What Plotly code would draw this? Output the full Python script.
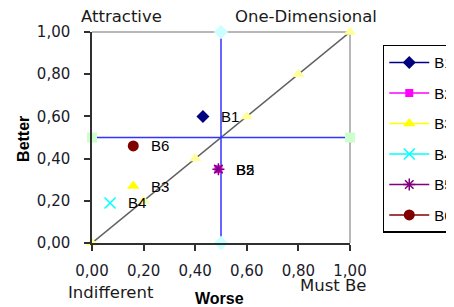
import plotly.graph_objects as go

# ---- data ----
series_names = ["B1", "B2", "B3", "B4", "B5", "B6"]
worse_values = [0.43, 0.49, 0.16, 0.07, 0.49, 0.16]
better_values = [0.60, 0.35, 0.27, 0.19, 0.35, 0.46]
series_colors = ["#000080", "#FF00FF", "#FFFF00", "#00FFFF", "#800080", "#800000"]
series_symbols = ["diamond", "square", "triangle-up", "x-thin-open", "asterisk-open", "circle"]
series_sizes = [10, 8, 11, 11, 10, 11]

diag_values = [0.0, 0.2, 0.4, 0.6, 0.8, 1.0]
mid_value = 0.5
axis_ticks = [0.0, 0.2, 0.4, 0.6, 0.8, 1.0]

fig = go.Figure()

# diagonal reference
fig.add_trace(go.Scatter(
    x=diag_values, y=diag_values, mode="lines+markers",
    line=dict(color="#606060", width=1.5),
    marker=dict(symbol="triangle-up", size=11, color="#FFFF99"),
    showlegend=False, cliponaxis=False, hoverinfo="skip"))
# vertical line at 0.5
fig.add_trace(go.Scatter(
    x=[mid_value, mid_value], y=[0, 1], mode="lines+markers",
    line=dict(color="#3333FF", width=1.5),
    marker=dict(symbol="diamond", size=11, color="#CCFFFF"),
    showlegend=False, cliponaxis=False, hoverinfo="skip"))
# horizontal line at 0.5
fig.add_trace(go.Scatter(
    x=[0, 1], y=[mid_value, mid_value], mode="lines+markers",
    line=dict(color="#3333FF", width=1.5),
    marker=dict(symbol="square", size=10, color="#CCFFCC"),
    showlegend=False, cliponaxis=False, hoverinfo="skip"))

for i, name in enumerate(series_names):
    sym = series_symbols[i]
    mk = dict(symbol=sym, size=series_sizes[i], color=series_colors[i])
    if sym.endswith("open"):
        mk["line"] = dict(color=series_colors[i], width=1.5)
    fig.add_trace(go.Scatter(
        x=[worse_values[i]], y=[better_values[i]], mode="lines+markers",
        name=name, legendgroup=name,
        line=dict(color=series_colors[i], width=1.5),
        marker=mk, cliponaxis=False))
    fig.add_annotation(x=worse_values[i], y=better_values[i], xref="x", yref="y",
                       text=name, showarrow=False, xanchor="left", yanchor="middle",
                       xshift=16, font=dict(family="Liberation Sans", size=15, color="#000000"))

lab_font = dict(family="DejaVu Sans", size=16.5, color="#1a1a1a")
for txt, x, y in [("Attractive", 0.116, 1.075), ("One-Dimensional", 0.829, 1.075),
                  ("Indifferent", 0.073, -0.234), ("Must Be", 0.936, -0.203)]:
    fig.add_annotation(x=x, y=y, xref="paper", yref="paper", text=txt, showarrow=False,
                       xanchor="center", yanchor="middle", font=lab_font)
fig.add_annotation(x=0.494, y=-0.264, xref="paper", yref="paper", text="<b>Worse</b>",
                   showarrow=False, xanchor="center", yanchor="middle",
                   font=dict(family="Liberation Sans", size=16, color="#000000"))
fig.add_annotation(x=-0.266, y=0.495, xref="paper", yref="paper", text="<b>Better</b>",
                   showarrow=False, textangle=-90, xanchor="center", yanchor="middle",
                   font=dict(family="Liberation Sans", size=16, color="#000000"))

# top and right plot-area border in gray
fig.add_shape(type="line", xref="paper", yref="paper", x0=0, x1=1, y0=1, y1=1,
              line=dict(color="#A0A0A0", width=1.5), layer="below")
fig.add_shape(type="line", xref="paper", yref="paper", x0=1, x1=1, y0=0, y1=1,
              line=dict(color="#A0A0A0", width=1.5), layer="below")

tick_font = dict(family="DejaVu Sans", size=15, color="#1a1a2a")
fig.update_xaxes(range=[0, 1], tickvals=axis_ticks, tickformat=".2f", showgrid=False,
                 zeroline=False, showline=True, linecolor="#303030", linewidth=1.5,
                 ticks="outside", ticklen=6, tickcolor="#303030", tickwidth=1.5,
                 tickfont=tick_font, ticklabelstandoff=7)
fig.update_yaxes(range=[0, 1], tickvals=axis_ticks, tickformat=".2f", showgrid=False,
                 zeroline=False, showline=True, linecolor="#303030", linewidth=1.5,
                 ticks="outside", ticklen=6, tickcolor="#303030", tickwidth=1.5,
                 tickfont=tick_font, ticklabelstandoff=11)

fig.update_layout(
    width=454, height=307, separators=",.",
    margin=dict(l=84, r=112, t=24, b=72, autoexpand=False),
    paper_bgcolor="white", plot_bgcolor="white",
    legend=dict(x=1.127, y=0.94, xanchor="left", yanchor="top",
                bordercolor="#000000", borderwidth=1.5, bgcolor="white",
                font=dict(family="Liberation Sans", size=15, color="#000000"),
                tracegroupgap=8, itemwidth=40),
)

fig.write_html("out.html")
